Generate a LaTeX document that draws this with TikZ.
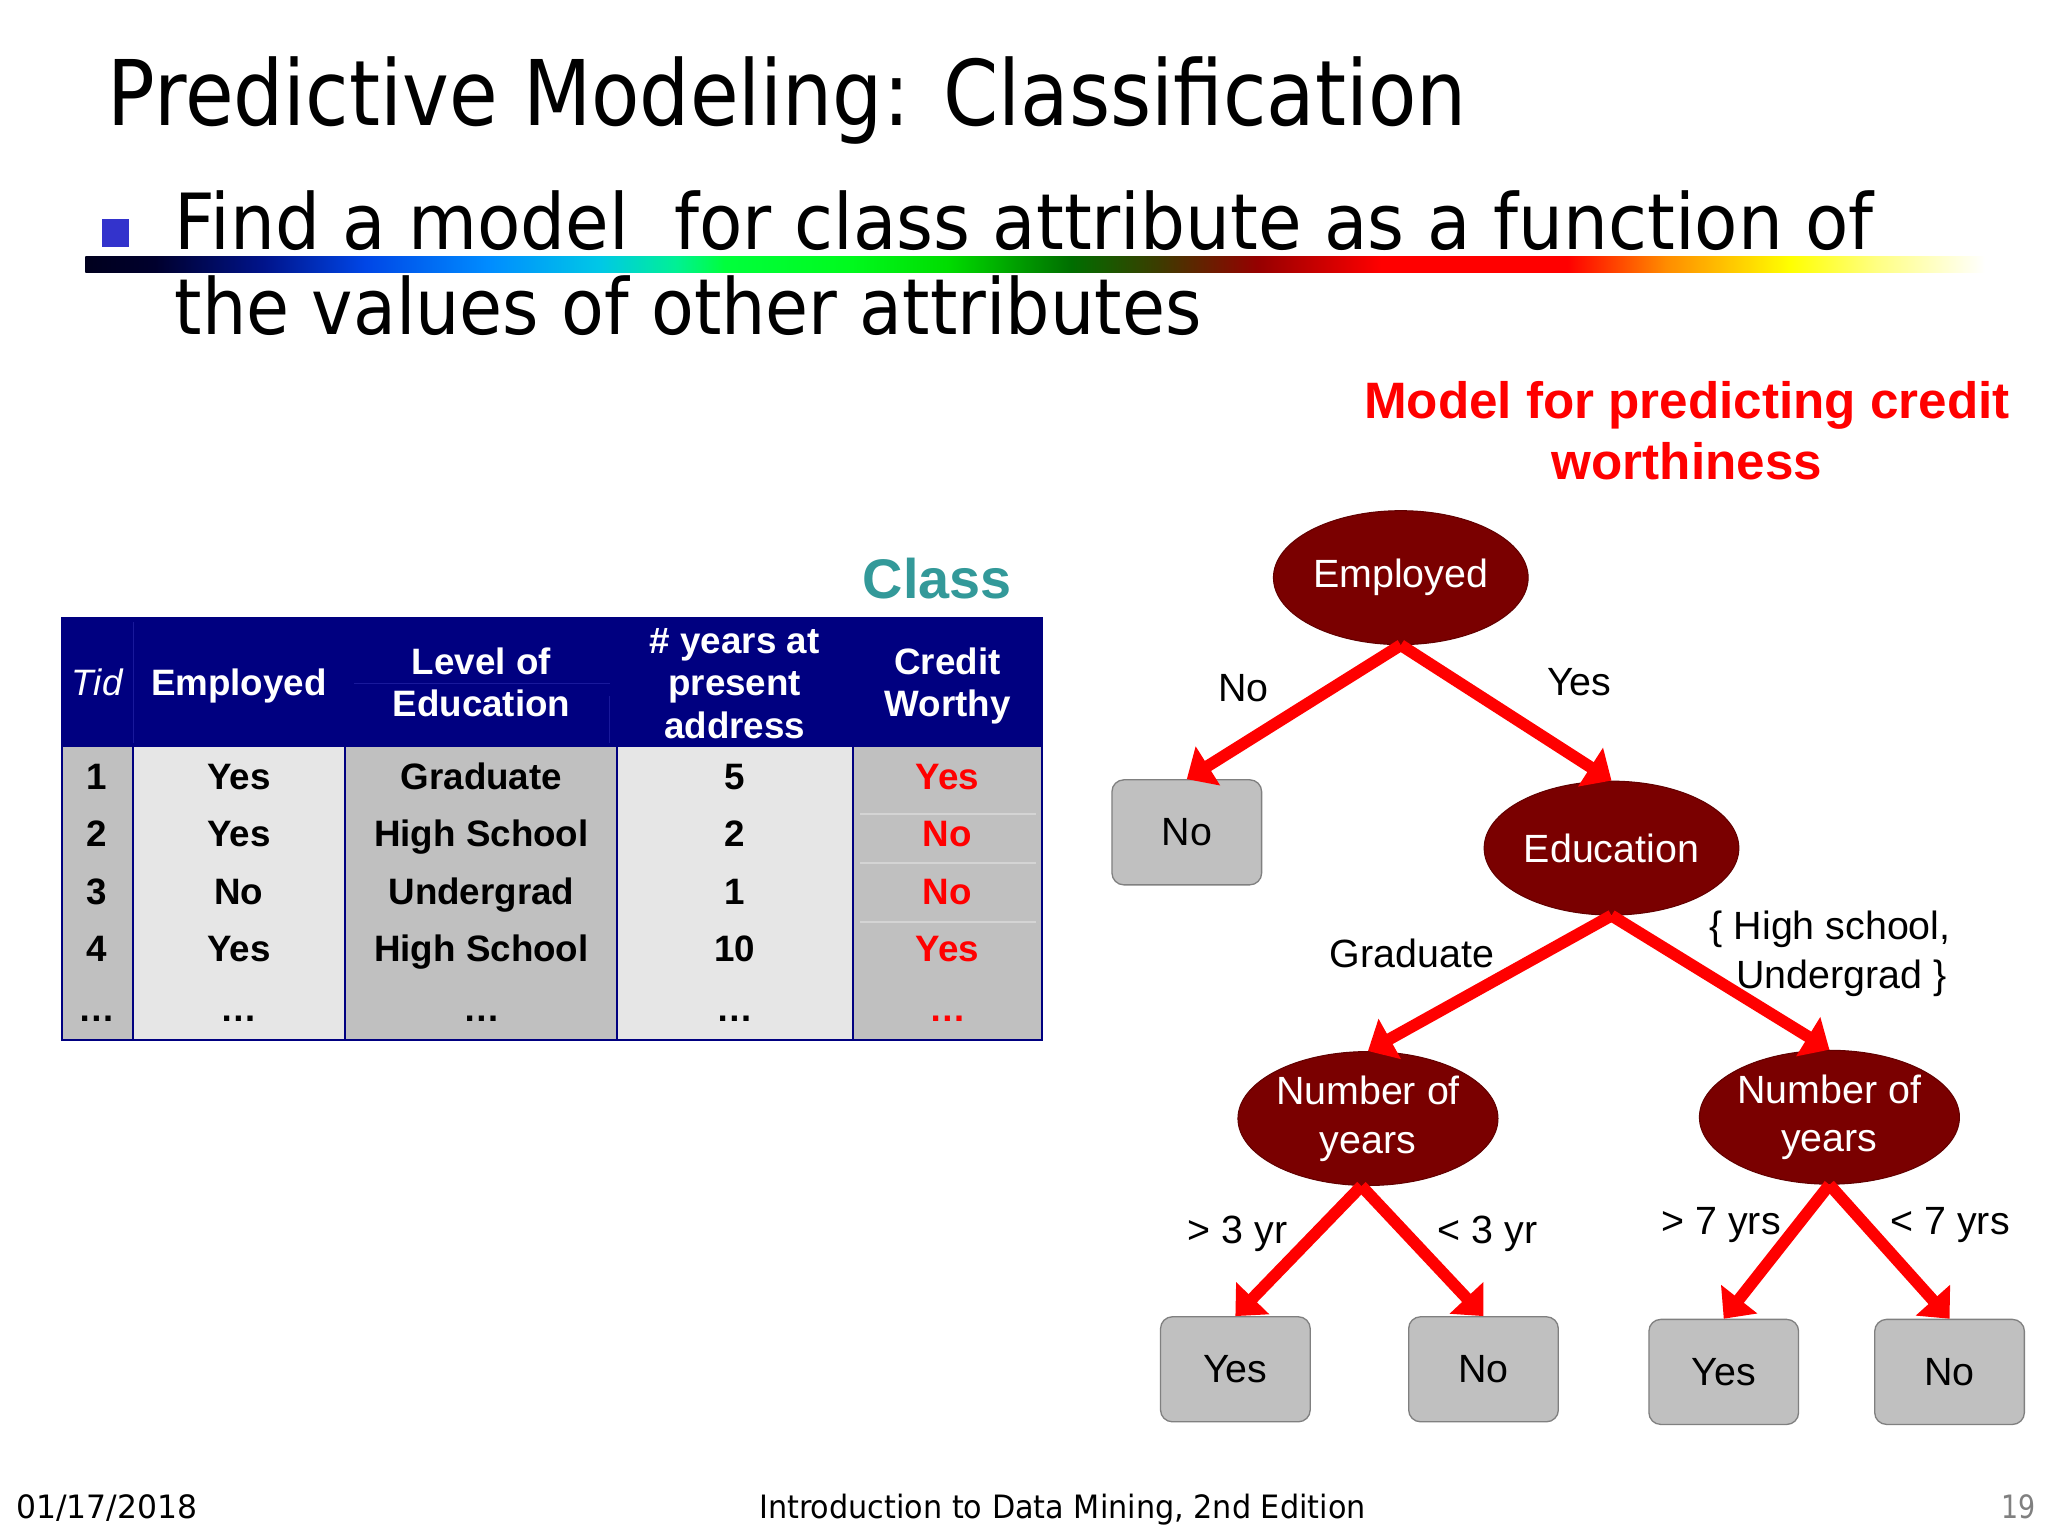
\documentclass[tikz,border=0pt]{standalone}
\usepackage{fontspec}
\setmainfont{Liberation Sans}
\newfontfamily\tahfont{DejaVu Sans}
\usetikzlibrary{shapes.geometric,arrows.meta}
\newcommand\fitw[2]{\resizebox{#1}{\height}{#2}}
\newcommand\tblfont{\fontsize{28}{34}\selectfont\bfseries}
\newcommand\treefont{\fontsize{30}{37}\selectfont}
\definecolor{navyhdr}{RGB}{0,0,128}
\definecolor{cellgray}{RGB}{192,192,192}
\definecolor{celllight}{RGB}{230,230,230}
\definecolor{classteal}{RGB}{51,153,153}
\definecolor{nodered}{RGB}{122,0,0}
\definecolor{bulletblue}{RGB}{51,51,204}
\definecolor{leafedge}{RGB}{128,128,128}
\definecolor{arrowred}{RGB}{255,0,0}
\definecolor{faintline}{RGB}{212,212,212}
\definecolor{hdrline}{RGB}{25,25,155}
% rainbow stops
\definecolor{rb0}{RGB}{0,0,30}
\definecolor{rb1}{RGB}{0,0,45}
\definecolor{rb2}{RGB}{0,20,140}
\definecolor{rb3}{RGB}{0,70,230}
\definecolor{rb4}{RGB}{0,140,255}
\definecolor{rb5}{RGB}{0,200,230}
\definecolor{rb6}{RGB}{0,240,150}
\definecolor{rb7}{RGB}{0,255,60}
\definecolor{rb8}{RGB}{0,250,30}
\definecolor{rb9}{RGB}{0,220,0}
\definecolor{rb10}{RGB}{0,110,0}
\definecolor{rb11}{RGB}{60,60,0}
\definecolor{rb12}{RGB}{150,0,0}
\definecolor{rb13}{RGB}{255,0,0}
\definecolor{rb14}{RGB}{255,0,0}
\definecolor{rb15}{RGB}{255,140,0}
\definecolor{rb16}{RGB}{255,255,0}
\definecolor{rb17}{RGB}{255,255,130}
\definecolor{rb18}{RGB}{255,255,255}
\pgfdeclarehorizontalshading{rainbowbar}{100bp}{%
  color(0bp)=(rb0); color(25bp)=(rb0); color(26.83bp)=(rb1); color(29.73bp)=(rb2);
  color(32.36bp)=(rb3); color(35.61bp)=(rb4); color(38.55bp)=(rb5); color(40.52bp)=(rb6);
  color(41.83bp)=(rb7); color(45.08bp)=(rb8); color(47.70bp)=(rb9); color(50.95bp)=(rb10);
  color(53.23bp)=(rb11); color(55.86bp)=(rb12); color(59.11bp)=(rb13); color(64.01bp)=(rb14);
  color(66.60bp)=(rb15); color(69.85bp)=(rb16); color(72.13bp)=(rb17); color(75bp)=(rb18);
  color(100bp)=(rb18)}
\tikzset{
  cellt/.style={font=\tblfont, anchor=base, inner sep=0pt},
  hdrt/.style={cellt, text=white},
  decision/.style={ellipse, fill=nodered, draw=nodered!80!black, line width=0.8pt,
    minimum width=194pt, minimum height=102pt, inner sep=0pt, text=white,
    font=\treefont, align=center},
  leaf/.style={rectangle, rounded corners=9pt, fill=cellgray, draw=leafedge,
    line width=1pt, minimum width=114pt, minimum height=80pt, inner sep=0pt,
    font=\treefont},
  edgelbl/.style={font=\treefont, inner sep=0pt, anchor=base},
  branch/.style={draw=arrowred, line width=9pt, line cap=butt,
    -{Triangle[length=19pt,width=34pt]}}
}
\begin{document}
\begin{tikzpicture}[x=1pt,y=-1pt]
\useasboundingbox[fill=white] (0,0) rectangle (1560,1170);

% ---- title and bullet ----
\node[anchor=base west, inner sep=0pt] (title) at (82,95.5)
  {\fitw{1035pt}{\tahfont\fontsize{69}{80}\selectfont Predictive Modeling: Classification}};
\fill[bulletblue] (78,167) rectangle (98,188);
\node[anchor=base west, inner sep=0pt] (bul1) at (133,190)
  {\fitw{1294pt}{\tahfont\fontsize{59}{70}\selectfont Find a model\ \ for class attribute as a function of}};
% rainbow bar
\shade[shading=rainbowbar] (65,195) rectangle (1512,207.7);
\node[anchor=base west, inner sep=0pt] (bul2) at (133,255)
  {\fitw{782pt}{\tahfont\fontsize{59}{70}\selectfont the values of other attributes}};

% ---- red model title ----
\node[anchor=base, inner sep=0pt, text=arrowred, font=\fontsize{39}{46}\selectfont\bfseries]
  (mt1) at (1285,319) {Model for predicting credit};
\node[anchor=base, inner sep=0pt, text=arrowred, font=\fontsize{39}{46}\selectfont\bfseries]
  (mt2) at (1285,365.6) {worthiness};

% ---- Class label ----
\node[anchor=base west, inner sep=0pt, text=classteal, font=\fontsize{42.5}{50}\selectfont\bfseries]
  (classlbl) at (657,455.8) {Class};

% ---- table ----
\fill[navyhdr] (47,471) rectangle (794,569);
\fill[cellgray]  (47,569)    rectangle (101.5,792);
\fill[celllight] (101.5,569) rectangle (263,792);
\fill[cellgray]  (263,569)   rectangle (470,792);
\fill[celllight] (470,569)   rectangle (650,792);
\fill[cellgray]  (650,569)   rectangle (794,792);
\foreach \yy in {620,657,702}{
  \draw[faintline, line width=1.5pt] (655,\yy) -- (789,\yy);
}
\draw[hdrline, line width=1pt] (270,520.5) -- (465,520.5);
\draw[hdrline, line width=1pt] (101.5,474) -- (101.5,566);
\draw[hdrline, line width=1pt] (464,530) -- (464,566);
\foreach \xx in {101.5,263,470,650}{
  \draw[navyhdr, line width=1.5pt] (\xx,569) -- (\xx,792);
}
\draw[navyhdr, line width=1.5pt] (47,471) rectangle (794,792);

\node[hdrt, font=\fontsize{28}{34}\selectfont\itshape] (h1) at (74,530) {Tid};
\node[hdrt] (h2) at (182,530) {Employed};
\node[hdrt] (h3a) at (366.7,514) {Level of};
\node[hdrt] (h3b) at (366.7,546) {Education};
\node[hdrt] (h4a) at (559.6,497.7) {\# years at};
\node[hdrt] (h4b) at (559.6,529.4) {present};
\node[hdrt] (h4c) at (559.6,562.4) {address};
\node[hdrt] (h5a) at (721.7,514) {Credit};
\node[hdrt] (h5b) at (721.7,546) {Worthy};

\foreach \r/\yy/\a/\b/\c/\d/\e in {1/601/1/Yes/Graduate/5/Yes, 2/644.5/2/Yes/High School/2/No,
    3/689/3/No/Undergrad/1/No, 4/732.5/4/Yes/High School/10/Yes}{
  \node[cellt] (ctid\r) at (74,\yy) {\a};
  \node[cellt] (cemp\r) at (182,\yy) {\b};
  \node[cellt] (cedu\r) at (366.7,\yy) {\c};
  \node[cellt] (cyrs\r) at (559.6,\yy) {\d};
  \node[cellt, text=arrowred] (ccw\r) at (721.7,\yy) {\e};
}
\node[cellt] (ctid5) at (74,778) {…};
\node[cellt] (cemp5) at (182,778) {…};
\node[cellt] (cedu5) at (366.7,778) {…};
\node[cellt] (cyrs5) at (559.6,778) {…};
\node[cellt, text=arrowred] (ccw5) at (721.7,778) {…};

% ---- decision tree ----
\node[decision] (emp) at (1067,440) {Employed};
\node[leaf] (lno) at (904,634) {No};
\node[decision] (edu) at (1227.5,646) {Education};
\node[decision] (ny1) at (1042,852) {Number of\\years};
\node[decision] (ny2) at (1393.5,851) {Number of\\years};
\node[leaf] (l1) at (941,1043) {Yes};
\node[leaf] (l2) at (1130,1043) {No};
\node[leaf] (l3) at (1313,1045) {Yes};
\node[leaf] (l4) at (1485,1045) {No};

\draw[branch] (emp.south) -- (lno.north);
\draw[branch] (emp.south) -- (edu.north);
\draw[branch] (edu.south) -- (ny1.north);
\draw[branch] (edu.south) -- (ny2.north);
\draw[branch] ([xshift=-5pt]ny1.south) -- (l1.north);
\draw[branch] ([xshift=-5pt]ny1.south) -- (l2.north);
\draw[branch] (ny2.south) -- (l3.north);
\draw[branch] (ny2.south) -- (l4.north);

\node[edgelbl] (eno) at (947,534) {No};
\node[edgelbl] (eyes) at (1203,530) {Yes};
\node[edgelbl] (egrad) at (1075.5,737) {Graduate};
\node[edgelbl, anchor=base east] (ehs1) at (1486,716) {\{ High school,};
\node[edgelbl, anchor=base east] (ehs2) at (1483,753) {Undergrad \}};
\node[edgelbl] (egt3) at (942.7,947) {> 3 yr};
\node[edgelbl] (elt3) at (1133,947) {< 3 yr};
\node[edgelbl] (egt7) at (1311,940) {> 7 yrs};
\node[edgelbl] (elt7) at (1485.4,940) {< 7 yrs};

% ---- footer ----
\node[anchor=base west, inner sep=0pt] (fdate) at (12,1157)
  {\fitw{138pt}{\tahfont\fontsize{24.5}{30}\selectfont 01/17/2018}};
\node[anchor=base west, inner sep=0pt] (ftitle) at (578,1157)
  {\fitw{462pt}{\tahfont\fontsize{24.5}{30}\selectfont Introduction to Data Mining, 2nd Edition}};
\node[anchor=base west, inner sep=0pt, text=gray] (fpage) at (1524,1157)
  {\fitw{26pt}{\tahfont\fontsize{24.5}{30}\selectfont 19}};
\end{tikzpicture}
\end{document}
